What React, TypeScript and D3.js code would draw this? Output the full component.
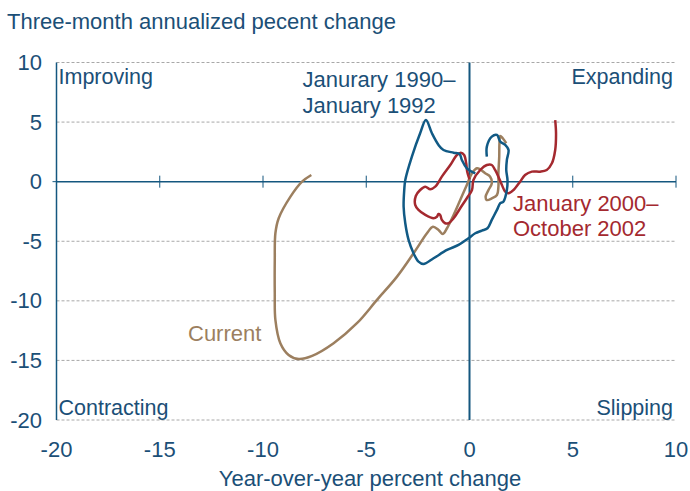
import React from "react";
import * as d3 from "d3";

const xTicks = [-20, -15, -10, -5, 0, 5, 10];
const yTicks = [10, 5, 0, -5, -10, -15, -20];
const gridYs = [10, 5, -5, -10, -15, -20];

// Jan 1990 – Jan 1992 (blue)
const seriesBlue: [number, number][] = [
  [0.84, 2.1], [0.84, 2.94], [1.08, 3.78], [1.33, 3.92], [1.49, 3.36], [1.73, 3.08],
  [1.89, 2.66], [1.81, 1.82], [1.78, 0.98], [1.84, 0.14], [1.81, -0.7], [1.64, -1.68],
  [1.49, -1.81], [1.33, -2.37], [1.08, -3.21], [0.87, -3.91], [0.6, -4.11], [0.28, -4.33],
  [-0.05, -4.75], [-0.53, -5.31], [-1.09, -5.73], [-1.74, -6.43], [-2.23, -6.91],
  [-2.47, -6.71], [-2.71, -6.01], [-2.95, -4.89], [-3.11, -3.49], [-3.19, -2.1],
  [-3.16, -0.7], [-3.11, 0.14], [-2.79, 2.1], [-2.39, 4.06], [-2.11, 5.18], [-1.82, 4.06],
  [-1.5, 3.08], [-1.26, 2.66], [-0.77, 2.43], [-0.48, 2.32], [-0.37, 1.82], [-0.13, 1.12],
  [0.28, 0.7],
];

// Jan 2000 – Oct 2002 (red)
const seriesRed: [number, number][] = [
  [4.15, 5.17], [4.19, 4.06], [4.15, 2.66], [3.99, 1.54], [3.74, 0.98], [3.42, 0.84],
  [3.02, 0.84], [2.69, 0.56], [2.45, 0.0], [2.13, -0.7], [1.89, -0.98], [1.73, -0.84],
  [1.57, -0.28], [1.4, 0.42], [1.24, 0.98], [1.08, 1.4], [0.84, 1.4], [0.52, 0.98],
  [0.19, 0.14], [0.12, -0.7], [-0.13, -1.39], [-0.45, -2.23], [-0.77, -3.07],
  [-1.02, -3.49], [-1.18, -3.49], [-1.34, -3.21], [-1.42, -2.79], [-1.5, -2.71],
  [-1.58, -2.94], [-1.74, -3.07], [-2.14, -2.79], [-2.47, -2.37], [-2.63, -1.95],
  [-2.6, -1.2], [-2.39, -0.7], [-2.14, -0.42], [-1.9, -0.64], [-1.66, -0.42],
  [-1.34, 0.42], [-0.93, 1.4], [-0.61, 2.24], [-0.42, 2.43], [-0.26, 2.24],
  [-0.16, 1.54], [-0.11, 0.84], [0.0, 0.2],
];

// Current (tan)
const seriesCurrent: [number, number][] = [
  [-7.66, 0.56], [-8.11, 0.0], [-8.67, -1.26], [-9.24, -3.07], [-9.4, -4.33],
  [-9.43, -6.57], [-9.43, -9.36], [-9.4, -11.6], [-9.16, -13.56], [-8.76, -14.54],
  [-8.27, -14.88], [-7.62, -14.62], [-6.58, -13.56], [-5.45, -11.88], [-4.48, -9.92],
  [-3.51, -7.97], [-2.71, -6.01], [-2.06, -4.33], [-1.77, -3.78], [-1.5, -4.05],
  [-1.29, -4.39], [-1.09, -3.91], [-0.77, -2.79], [-0.45, -1.54], [-0.13, -0.28],
  [0.12, 0.7], [0.36, 1.12], [0.5, 1.05], [0.76, 0.7], [1.0, 0.42], [1.08, -0.14],
  [0.92, -0.7], [0.78, -1.26], [0.84, -1.54], [1.08, -1.4], [1.33, -1.12], [1.4, -0.42],
  [1.4, 0.7], [1.44, 2.1], [1.45, 3.22], [1.49, 3.83], [1.61, 3.64], [1.78, 3.22],
];

const W = 690;
const H = 491;
const FONT = "'Liberation Sans', Arial, sans-serif";
const TXT = "#1b4f77";
const AXIS = "#14577f";
const BLUE = "#115a85";
const RED = "#a4292f";
const TAN = "#9c7f5f";
const FS = 22;

export default function App() {
  const x = d3.scaleLinear().domain([-20, 10]).range([56.5, 676]);
  const y = d3.scaleLinear().domain([-20, 10]).range([420, 62.5]);
  const line = d3
    .line<[number, number]>()
    .x((d) => x(d[0]))
    .y((d) => y(d[1]))
    .curve(d3.curveCatmullRom.alpha(0.5));

  return (
    <svg
      width={W}
      height={H}
      style={{ position: "absolute", left: 0, top: 0, background: "#fff" }}
      fontFamily={FONT}
    >
      <text x={7} y={28.5} fontSize={FS} fill={TXT}>
        Three-month annualized pecent change
      </text>

      {gridYs.map((v) => (
        <line
          key={v}
          x1={x(-20)}
          x2={x(10)}
          y1={y(v)}
          y2={y(v)}
          stroke="#a8a8a8"
          strokeWidth={1}
          strokeDasharray="3,2"
        />
      ))}

      {/* zero x-axis */}
      <line x1={x(-20)} x2={x(10)} y1={y(0)} y2={y(0)} stroke={AXIS} strokeWidth={1.5} />
      {xTicks
        .filter((t) => t !== -20 && t !== 0)
        .map((t) => (
          <line key={t} x1={x(t)} x2={x(t)} y1={y(0) - 6} y2={y(0) + 6} stroke={AXIS} strokeWidth={1} />
        ))}
      {/* left axis */}
      <line x1={x(-20)} x2={x(-20)} y1={y(10)} y2={y(-20)} stroke={AXIS} strokeWidth={1.5} />
      <line x1={x(-20) - 4} x2={x(-20)} y1={y(0)} y2={y(0)} stroke={AXIS} strokeWidth={1} />
      {/* zero vertical */}
      <line x1={x(0)} x2={x(0)} y1={y(10)} y2={y(-20)} stroke={AXIS} strokeWidth={2} />

      {yTicks.map((t) => (
        <text key={t} x={42} y={y(t) + 7.5} fontSize={FS} fill={TXT} textAnchor="end">
          {t}
        </text>
      ))}
      {xTicks.map((t) => (
        <text key={t} x={x(t)} y={457} fontSize={FS} fill={TXT} textAnchor="middle">
          {t}
        </text>
      ))}
      <text x={370} y={485.5} fontSize={FS} fill={TXT} textAnchor="middle">
        Year-over-year percent change
      </text>

      <path d={line(seriesCurrent) || ""} fill="none" stroke={TAN} strokeWidth={2.5} strokeLinejoin="round" />
      <path d={line(seriesRed) || ""} fill="none" stroke={RED} strokeWidth={2.5} strokeLinejoin="round" />
      <path d={line(seriesBlue) || ""} fill="none" stroke={BLUE} strokeWidth={2.5} strokeLinejoin="round" />

      <text x={58.5} y={84} fontSize={21.5} fill={TXT}>Improving</text>
      <text x={673} y={84} fontSize={21.5} fill={TXT} textAnchor="end">Expanding</text>
      <text x={58.5} y={415} fontSize={21.5} fill={TXT}>Contracting</text>
      <text x={673} y={415} fontSize={21.5} fill={TXT} textAnchor="end">Slipping</text>

      <text x={302.5} y={86.5} fontSize={FS} fill={TXT}>Janurary 1990–</text>
      <text x={302.5} y={113} fontSize={FS} fill={TXT}>January 1992</text>

      <text x={513} y={211} fontSize={FS} fill={RED}>January 2000–</text>
      <text x={513} y={235.5} fontSize={FS} fill={RED}>October 2002</text>

      <text x={188} y={341} fontSize={FS} fill={TAN}>Current</text>
    </svg>
  );
}
